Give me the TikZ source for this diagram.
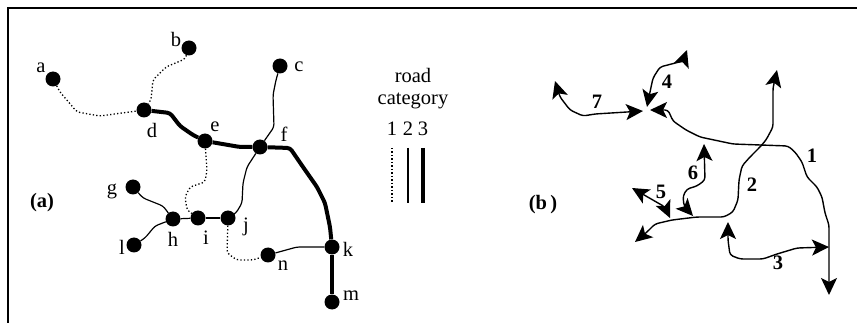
\documentclass[tikz,border=0pt]{standalone}
\usepackage{fontspec}
\setmainfont{Liberation Serif}
\usetikzlibrary{arrows.meta}
\tikzset{
  roadtip/.tip={Stealth[length=17pt,width=16pt,inset=4pt]}
}
\begin{document}
\begin{tikzpicture}[
  x=1pt, y=-1pt,
  junction/.style={circle, fill, inner sep=0pt, minimum size=15pt},
  tag/.style={inner sep=0pt, font=\fontsize{20.5}{22}\selectfont},
  num/.style={inner sep=0pt, font=\fontsize{20.5}{22}\selectfont\bfseries},
  road1/.style={line width=1.3pt, dash pattern=on 1.3pt off 2.2pt, rounded corners=3pt},
  road2/.style={line width=1.2pt, rounded corners=3pt},
  road3/.style={line width=4pt, rounded corners=3pt},
  route/.style={line width=1.4pt, rounded corners=3pt, roadtip-roadtip}
]
\useasboundingbox (0,0) rectangle (857,323);
\draw[line width=2pt] (8,323) -- (8,8) -- (857,8);

% (a) road network
\node (a) at (53,79) [junction] {};
\node (b) at (189,48) [junction] {};
\node (c) at (280,66) [junction] {};
\node (d) at (144,110) [junction] {};
\node (e) at (205,141) [junction] {};
\node (f) at (260,147) [junction] {};
\node (g) at (133,187) [junction] {};
\node (h) at (173,219) [junction] {};
\node (i) at (198,218) [junction] {};
\node (j) at (228,218) [junction] {};
\node (k) at (332,247) [junction] {};
\node (l) at (134,245) [junction] {};
\node (m) at (332,302) [junction] {};
\node (n) at (268,255) [junction] {};

\node (a-lab) at (41,68) [tag] {a};
\node (b-lab) at (176,39) [tag] {b};
\node (c-lab) at (299,67) [tag] {c};
\node (d-lab) at (152,130) [tag] {d};
\node (e-lab) at (215,127) [tag] {e};
\node (f-lab) at (284,134) [tag] {f};
\node (g-lab) at (112,191) [tag] {g};
\node (h-lab) at (173,239) [tag] {h};
\node (i-lab) at (206,238) [tag] {i};
\node (j-lab) at (246,227) [tag] {j};
\node (k-lab) at (348,249) [tag] {k};
\node (l-lab) at (122,247) [tag] {l};
\node (m-lab) at (351,296) [tag] {m};
\node (n-lab) at (283,266) [tag] {n};
\node (a-cap) at (42,203) [num] {(a)};

% Roads, category 1
\draw[road1] (a) -- (60,92) -- (77,112) -- (100,116) -- (d);
\draw[road1] (b) -- (185,59) -- (166,67) -- (153,80) -- (151,100) -- (d);
\draw[road1] (e) -- (207,170) -- (205,182) -- (190,187) -- (185,197) -- (187,210) -- (i);
\draw[road1] (j) -- (227,253) -- (237,260) -- (253,260) -- (n);
% Roads, category 2
\draw[road2] (c) -- (276,80) -- (273,95) -- (274,127) -- (f);
\draw[road2] (f) -- (247,167) -- (243,183) -- (242,203) -- (236,213) -- (j);
\draw[road2] (g) -- (143,198) -- (163,206) -- (h);
\draw[road2] (h) -- (155,226) -- (145,238) -- (l);
\draw[road2] (h) -- (i);
\draw[road2] (i) -- (j);
\draw[road2] (n) -- (297,247) -- (k);
% Roads, category 3
\draw[road3] (d) -- (170,113) -- (180,126) -- (193,135) -- (e);
\draw[road3] (e) -- (240,147) -- (f);
\draw[road3] (f) -- (290,148) -- (303,167) -- (317,187) -- (325,203) -- (330,227) -- (k);
\draw[road3] (k) -- (m);

% Legend
\node (road) at (413,75) [tag] {road};
\node (category) at (413,101) [tag] {category};
\node (cat1) at (392,129) [tag] {1};
\node (cat2) at (408,129) [tag] {2};
\node (cat3) at (423,129) [tag] {3};
\draw[road1] (392,148) -- (392,203);
\draw[road2] (408,148) -- (408,203);
\draw[road3] (423,148) -- (423,203);

% (b) routes
\coordinate (ba) at (555,81);
\coordinate (bb) at (687,50);
\coordinate (bc) at (777,70);
\coordinate (bd-w) at (643,111);
\coordinate (bd-n) at (647,107);
\coordinate (bd-e) at (650,110);
\coordinate (be) at (704,144);
\coordinate (bg) at (632,188);
\coordinate (bh) at (670,218);
\coordinate (bi) at (693,216);
\coordinate (bj) at (728,222);
\coordinate (bk) at (829,247);
\coordinate (bl) at (635,242);
\coordinate (bm) at (829,295);

\draw[route] (bd-e) -- (668,110) -- (673,121) -- (686,130) -- (700,137) -- (733,144) -- (788,146) -- (795,152) -- (802,162) -- (807,177) -- (817,187) -- (822,197) -- (825,213) -- (829,225) -- (bm);
\draw[route] (bc) -- (773,88) -- (773,127) -- (766,140) -- (760,147) -- (750,157) -- (742,166) -- (739,180) -- (738,200) -- (733,212) -- (724,217) -- (697,217) -- (672,220) -- (655,224) -- (647,232) -- (bl);
\draw[route] (bj) -- (728,240) -- (730,255) -- (740,259) -- (763,259) -- (777,254) -- (797,248) -- (bk);
\draw[route] (bb) -- (683,61) -- (660,67) -- (653,78) -- (650,92) -- (bd-n);
\draw[route] (bg) -- (665,207) -- (bh);
\draw[route] (be) -- (705,180) -- (697,186) -- (687,189) -- (683,196) -- (684,206) -- (bi);
\draw[route] (ba) -- (560,97) -- (570,110) -- (583,116) -- (595,114) -- (bd-w);

\node (lab1) at (812,156) [num] {1};
\node (lab2) at (752,185) [num] {2};
\node (lab3) at (778,263) [num] {3};
\node (lab4) at (667,82) [num] {4};
\node (lab5) at (661,192) [num] {5};
\node (lab6) at (693,173) [num] {6};
\node (lab7) at (597,102) [num] {7};
\node (b-cap) at (543,205) [num] {(b\,)};
\end{tikzpicture}
\end{document}
